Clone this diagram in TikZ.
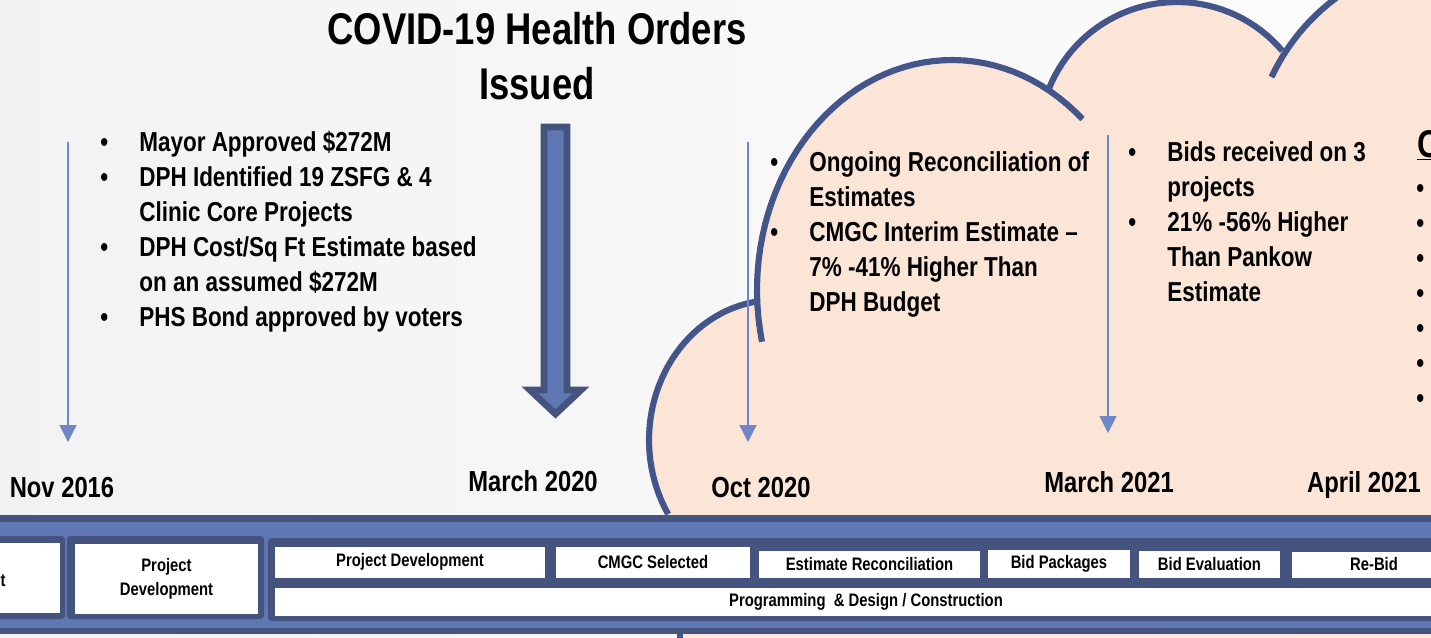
\documentclass[tikz,border=0pt]{standalone}
\usepackage{fontspec}
\setmainfont{Liberation Sans}[FakeStretch=0.82]
\usepackage{tikz}
\usetikzlibrary{arrows.meta}

\definecolor{peach}{HTML}{FBE5D6}
\definecolor{cloudline}{HTML}{44558A}
\definecolor{bardark}{HTML}{44547F}
\definecolor{barblue}{HTML}{5F77B3}
\definecolor{pointblue}{HTML}{6F87C6}

\newcommand{\bul}{\makebox[0.78cm][l]{\textbullet}}
\newcommand{\ind}{\hspace*{0.78cm}}

\begin{document}
\begin{tikzpicture}[x=0.02cm, y=-0.02cm, >={Triangle[length=0.34cm,width=0.34cm]},
    bullets/.style={anchor=base west, inner sep=0pt, align=left, font=\fontsize{15.6}{19.84}\selectfont\bfseries},
    date/.style={anchor=base, inner sep=0pt, font=\fontsize{16.5}{20}\selectfont\bfseries},
    pointer/.style={->, pointblue, line width=0.85pt},
    outline/.style={cloudline, line width=3.5pt},
    phase/.style={fill=white, inner sep=0pt, align=center, font=\fontsize{10.3}{13.5}\selectfont\bfseries},
    boxframe/.style={fill=bardark, rounded corners=2pt}]
    \useasboundingbox (0,0) rectangle (1431,637);
    \shade[left color=black!5, right color=black!1] (0,0) rectangle (1431,637);

    % cloud
    \fill[peach] (775,440) ellipse [x radius=126, y radius=140];
    \fill[peach] (952,290) ellipse [x radius=195, y radius=230];
    \fill[peach] (1177,140) circle [radius=138];
    \fill[peach] (1460,165) circle [radius=208];
    \fill[peach] (683,515) -- (700,440) -- (780,300) -- (952,150) -- (1177,100) -- (1330,60)
        -- (1431,0) -- (1431,637) -- (683,637) -- cycle;
    \draw[outline] plot[domain=148:262, samples=40] ({775+126*cos(\x)}, {440+140*sin(\x)});
    \draw[outline] plot[domain=167:312, samples=50] ({952+195*cos(\x)}, {290+230*sin(\x)});
    \draw[outline] plot[domain=201.5:319.7, samples=40] ({1177+138*cos(\x)}, {140+138*sin(\x)});
    \draw[outline] plot[domain=205:250, samples=20] ({1460+208*cos(\x)}, {165+208*sin(\x)});
    \draw[outline] (680,630) -- (680,640);

    % base of a multi-line node = last line
    \node[anchor=base, inner sep=0pt, align=center, font=\fontsize{25.3}{31.2}\selectfont\bfseries]
        (covid) at (537,99) {COVID-19 Health Orders\\Issued};
    \draw[fill=barblue, draw=bardark, line width=3.8pt, line join=miter]
        (544,127) -- (567,127) -- (567,390) -- (581,390) -- (555.5,414) -- (530,390) -- (544,390) -- cycle;

    \node[bullets] (approved) at (100,326) {\bul Mayor Approved \$272M\\
        \bul DPH Identified 19 ZSFG \& 4\\ \ind Clinic Core Projects\\
        \bul DPH Cost/Sq Ft Estimate based\\ \ind on an assumed \$272M\\
        \bul PHS Bond approved by voters};
    \node[bullets] (recon) at (770,311) {\bul Ongoing Reconciliation of\\ \ind Estimates\\
        \bul CMGC Interim Estimate –\\ \ind 7\% -41\% Higher Than\\ \ind DPH Budget};
    \node[bullets] (bids) at (1128,301) {\bul Bids received on 3\\ \ind projects\\
        \bul 21\% -56\% Higher\\ \ind Than Pankow\\ \ind Estimate};
    \node[anchor=base west, inner sep=0pt, font=\fontsize{22}{26}\selectfont\bfseries] (otherhead) at (1417,157) {\underline{C}};
    \node[bullets] (otherlist) at (1416,407) {\textbullet\\\textbullet\\\textbullet\\\textbullet\\\textbullet\\\textbullet\\\textbullet};

    \coordinate (p1s) at (68,142);   \coordinate (p1e) at (68,442);
    \coordinate (p2s) at (748,142);  \coordinate (p2e) at (748,442);
    \coordinate (p3s) at (1108,135); \coordinate (p3e) at (1108,433);
    \draw[pointer] (p1s) -- (p1e);
    \draw[pointer] (p2s) -- (p2e);
    \draw[pointer] (p3s) -- (p3e);

    \node[date] (nov16) at (62,497) {Nov 2016};
    \node[date] (mar20) at (533,491) {March 2020};
    \node[date] (oct20) at (761,497) {Oct 2020};
    \node[date] (mar21) at (1109,492) {March 2021};
    \node[date] (apr21) at (1364,492) {April 2021};

    % timeline bar
    \draw[bardark, fill=barblue, line width=3.8pt] (-10,518.5) rectangle (1445,631);
    \fill[boxframe] (-20,536) rectangle (65,619);
    \fill[boxframe] (67,536) rectangle (264,619);
    \fill[boxframe] (268,538) rectangle (1450,621);
    \node[phase, minimum width=1.62cm, minimum height=1.4cm] (first) at (20,578) {};
    \node[anchor=east, inner sep=0pt, font=\fontsize{10.3}{13.5}\selectfont\bfseries] (firstlab) at (6,581) {t};
    \node[phase, minimum width=3.66cm, minimum height=1.4cm] (projdev) at (166.5,579) {Project\\Development};
    \node[phase, minimum width=5.4cm, minimum height=0.62cm] (pd) at (410,562) {Project Development};
    \node[phase, minimum width=3.88cm, minimum height=0.62cm] (cmgc) at (653,562) {CMGC Selected};
    \node[phase, minimum width=4.42cm, minimum height=0.54cm] (est) at (869.5,564) {Estimate Reconciliation};
    \node[phase, minimum width=2.84cm, minimum height=0.56cm] (bidpk) at (1059,564) {Bid Packages};
    \node[phase, minimum width=2.82cm, minimum height=0.54cm] (bideval) at (1209.5,564) {Bid Evaluation};
    \node[phase, minimum width=3.28cm, minimum height=0.52cm] (rebid) at (1374,564.5) {Re-Bid};
    \node[phase, minimum width=23.64cm, minimum height=0.56cm] (prog) at (866,602) {Programming \ \& Design / Construction};
\end{tikzpicture}
\end{document}
